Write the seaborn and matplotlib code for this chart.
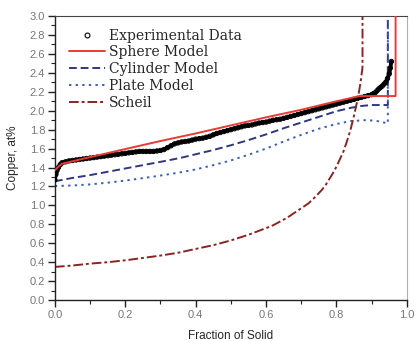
import numpy as np
import pandas as pd
import matplotlib
matplotlib.use("Agg")
import matplotlib.pyplot as plt
from matplotlib.lines import Line2D
from matplotlib.ticker import MultipleLocator, FormatStrFormatter
import seaborn as sns

# dane (frakcja fazy stałej -> stężenie Cu, at%)
exp_f = [0.000, 0.000, 0.003, 0.006, 0.010, 0.015, 0.02, 0.03, 0.04, 0.05, 0.06, 0.07, 0.08,
         0.09, 0.10, 0.11, 0.12, 0.13, 0.14, 0.15, 0.16, 0.17, 0.18, 0.19, 0.20, 0.21,
         0.22, 0.23, 0.24, 0.25, 0.26, 0.27, 0.28, 0.29, 0.30, 0.31, 0.32, 0.33, 0.34,
         0.35, 0.36, 0.37, 0.38, 0.39, 0.40, 0.41, 0.42, 0.43, 0.44, 0.45, 0.46, 0.47,
         0.48, 0.49, 0.50, 0.51, 0.52, 0.53, 0.54, 0.55, 0.56, 0.57, 0.58, 0.59, 0.60,
         0.61, 0.62, 0.63, 0.64, 0.65, 0.66, 0.67, 0.68, 0.69, 0.70, 0.71, 0.72, 0.73,
         0.74, 0.75, 0.76, 0.77, 0.78, 0.79, 0.80, 0.81, 0.82, 0.83, 0.84, 0.85, 0.86,
         0.87, 0.88, 0.89, 0.90, 0.905, 0.91, 0.915, 0.92, 0.925, 0.93, 0.935, 0.94,
         0.945, 0.95, 0.953, 0.956]
exp_c = [1.27, 1.31, 1.33, 1.37, 1.40, 1.43, 1.45, 1.46, 1.47, 1.475, 1.48, 1.485, 1.49,
         1.495, 1.50, 1.505, 1.51, 1.515, 1.52, 1.525, 1.53, 1.535, 1.54, 1.545, 1.55, 1.555,
         1.56, 1.565, 1.57, 1.57, 1.57, 1.57, 1.57, 1.575, 1.58, 1.59, 1.61, 1.63, 1.65,
         1.66, 1.67, 1.675, 1.68, 1.69, 1.70, 1.705, 1.71, 1.72, 1.73, 1.745, 1.76, 1.77,
         1.78, 1.79, 1.80, 1.81, 1.82, 1.83, 1.84, 1.845, 1.85, 1.86, 1.87, 1.875, 1.88,
         1.89, 1.90, 1.905, 1.91, 1.92, 1.93, 1.94, 1.95, 1.96, 1.97, 1.98, 1.99, 2.00,
         2.01, 2.02, 2.03, 2.04, 2.05, 2.06, 2.07, 2.08, 2.09, 2.10, 2.11, 2.12, 2.13,
         2.14, 2.15, 2.16, 2.17, 2.18, 2.19, 2.21, 2.23, 2.245, 2.26, 2.28, 2.30,
         2.34, 2.39, 2.45, 2.52]

sphere_f = [0.0, 0.01, 0.02, 0.1, 0.2, 0.3, 0.4, 0.5, 0.6, 0.7, 0.8, 0.866, 0.968, 0.968]
sphere_c = [1.37, 1.41, 1.44, 1.51, 1.595, 1.68, 1.76, 1.845, 1.93, 2.01, 2.10, 2.155, 2.155, 3.05]

cyl_f = [0.0, 0.05, 0.1, 0.15, 0.2, 0.25, 0.3, 0.355, 0.4, 0.45, 0.5, 0.55,
         0.6, 0.65, 0.7, 0.75, 0.8, 0.84, 0.87, 0.9, 0.946, 0.946]
cyl_c = [1.255, 1.29, 1.32, 1.355, 1.39, 1.425, 1.46, 1.50, 1.54, 1.585, 1.635, 1.69,
         1.75, 1.815, 1.875, 1.935, 1.995, 2.03, 2.05, 2.06, 2.06, 3.05]

plate_f = [0.0, 0.05, 0.1, 0.15, 0.2, 0.25, 0.3, 0.35, 0.4, 0.45, 0.5, 0.55, 0.6,
           0.65, 0.7, 0.75, 0.8, 0.84, 0.88, 0.91, 0.93, 0.946, 0.946]
plate_c = [1.205, 1.21, 1.222, 1.24, 1.262, 1.288, 1.315, 1.345, 1.38, 1.425, 1.475, 1.535, 1.60,
           1.675, 1.745, 1.81, 1.86, 1.89, 1.90, 1.895, 1.88, 1.865, 3.05]

scheil_f = [0.0, 0.05, 0.1, 0.15, 0.2, 0.25, 0.3, 0.35, 0.4, 0.45, 0.5, 0.55, 0.6,
            0.62, 0.64, 0.66, 0.68, 0.7, 0.72, 0.74, 0.76, 0.77, 0.78, 0.79, 0.80, 0.81,
            0.82, 0.83, 0.84, 0.85, 0.86, 0.865, 0.87, 0.874, 0.874]
scheil_c = [0.35, 0.365, 0.385, 0.40, 0.42, 0.445, 0.47, 0.50, 0.54, 0.58, 0.63, 0.69, 0.76,
            0.79, 0.83, 0.87, 0.92, 0.97, 1.02, 1.09, 1.17, 1.22, 1.28, 1.34, 1.41, 1.49,
            1.57, 1.68, 1.80, 1.95, 2.12, 2.22, 2.34, 2.46, 3.05]

sns.set_style("ticks")
plt.rcParams['font.family'] = ['Liberation Sans', 'DejaVu Sans']

fig = plt.figure(figsize=(4.16, 3.41), dpi=100)
ax = fig.add_axes([0.132, 0.12, 0.846, 0.833])

kolory = {"sphere": "#e83b35", "cyl": "#30377f", "plate": "#3a5cc0", "scheil": "#8a2424"}
styl = {"cyl": (0, (4, 2)), "plate": (0, (1.2, 2.2)), "scheil": (0, (5, 1.5, 1.5, 1.5))}

# dane eksperymentalne - gęste kółka
ax.plot(exp_f, exp_c, color="black", lw=2.8, zorder=3)
sns.scatterplot(x=exp_f, y=exp_c, ax=ax, marker="o", s=10, facecolors="none",
                edgecolor="black", linewidth=0.7, zorder=4, legend=False)

sns.lineplot(x=sphere_f, y=sphere_c, ax=ax, sort=False, estimator=None,
             color=kolory["sphere"], lw=1.4, zorder=5)
sns.lineplot(x=cyl_f, y=cyl_c, ax=ax, sort=False, estimator=None,
             color=kolory["cyl"], lw=1.4, linestyle=styl["cyl"], zorder=2)
sns.lineplot(x=plate_f, y=plate_c, ax=ax, sort=False, estimator=None,
             color=kolory["plate"], lw=1.4, linestyle=styl["plate"], zorder=2)
sns.lineplot(x=scheil_f, y=scheil_c, ax=ax, sort=False, estimator=None,
             color=kolory["scheil"], lw=1.4, linestyle=styl["scheil"], zorder=2)

ax.set_xlim(0, 1.0)
ax.set_ylim(0, 3.0)
ax.xaxis.set_major_locator(MultipleLocator(0.2))
ax.xaxis.set_minor_locator(MultipleLocator(0.1))
ax.yaxis.set_major_locator(MultipleLocator(0.2))
ax.yaxis.set_minor_locator(MultipleLocator(0.1))
ax.xaxis.set_major_formatter(FormatStrFormatter("%.1f"))
ax.yaxis.set_major_formatter(FormatStrFormatter("%.1f"))
ax.tick_params(which="major", direction="out", length=5, width=1, color="#222",
               labelsize=8, labelcolor="#777", pad=2)
ax.tick_params(which="minor", direction="out", length=3, width=0.8, color="#222")
ax.tick_params(axis="x", which="both", top=False)
ax.tick_params(axis="y", which="both", right=False)

for s in ["left", "bottom"]:
    ax.spines[s].set_color("#222")
    ax.spines[s].set_linewidth(1.0)
ax.spines["top"].set_visible(True)
ax.spines["top"].set_color("#444")
ax.spines["right"].set_visible(True)
ax.spines["right"].set_color("#b0b0b0")

ax.set_xlabel("Fraction of Solid", fontsize=8.5, labelpad=7)
ax.set_ylabel("Copper, at%", fontsize=8.5, labelpad=8)

uchwyty = [
    Line2D([], [], marker="o", ls="", mfc="none", mec="black", ms=3.5, mew=0.8),
    Line2D([], [], color=kolory["sphere"], lw=1.4),
    Line2D([], [], color=kolory["cyl"], lw=1.4, ls=styl["cyl"]),
    Line2D([], [], color=kolory["plate"], lw=1.4, ls=styl["plate"]),
    Line2D([], [], color=kolory["scheil"], lw=1.4, ls=styl["scheil"]),
]
etykiety = ["Experimental Data", "Sphere Model", "Cylinder Model", "Plate Model", "Scheil"]
ax.legend(uchwyty, etykiety, loc="upper left", bbox_to_anchor=(0.04, 0.956),
          frameon=False, borderaxespad=0, borderpad=0, handlelength=2.6,
          handletextpad=0.3, labelspacing=0.2,
          prop={"family": "DejaVu Serif", "size": 10})

fig.savefig("out.png", dpi=100)
